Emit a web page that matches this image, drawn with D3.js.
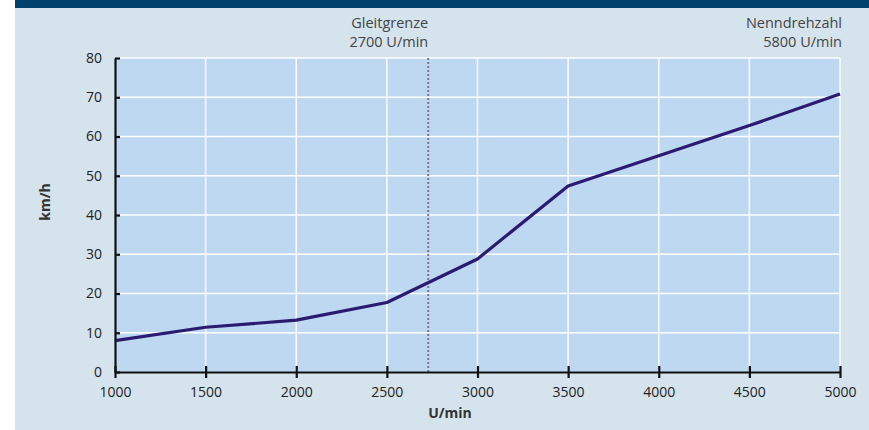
<!DOCTYPE html>
<meta charset="utf-8">
<head>
    <style type="text/css">
        body { margin: 0; background: #fff; }
        text { font-family: "Open Sans", "Noto Sans", sans-serif; }
        .line { fill: none; stroke: #2b1b70; stroke-width: 3.2; stroke-linejoin: round; }
        .grid line { stroke: #fff; stroke-width: 1.4; }
        .axis path, .axis line { stroke: #111; stroke-width: 2.2; }
        .axis text { font-size: 14px; fill: #222; }
        .note { font-size: 14.5px; fill: #444; }
        .label { font-size: 14px; font-weight: bold; fill: #333; }
    </style>
</head>
<body>
    <script src="https://d3js.org/d3.v7.min.js"></script>
    <script>
        // rpm values and the speed
        var rpm = [1000, 1500, 2000, 2500, 3000, 3500, 4000, 4500, 5000];
        var speed = [8.0, 11.4, 13.2, 17.7, 28.8, 47.4, 55.1, 62.8, 70.8];

        var xTicks = [1000, 1500, 2000, 2500, 3000, 3500, 4000, 4500, 5000];
        var yTicks = [0, 10, 20, 30, 40, 50, 60, 70, 80];

        // the dotted marker sits a bit right of 2700 in the original
        var markerRpm = 2728;
        var markerLines = ["Gleitgrenze", "2700 U/min"];
        var ratedLines = ["Nenndrehzahl", "5800 U/min"];

        var W = 869, H = 430;
        var margin = { top: 58, right: 29, bottom: 58, left: 115 },
            width = W - margin.left - margin.right,
            height = H - margin.top - margin.bottom;

        var svg = d3.select("body").append("svg")
            .attr("width", W)
            .attr("height", H);

        // panel background + top band
        svg.append("rect").attr("x", 15).attr("y", 0).attr("width", W - 15).attr("height", H).attr("fill", "#d5e3ec");
        svg.append("rect").attr("x", 15).attr("y", 0).attr("width", W - 15).attr("height", 8).attr("fill", "#00426e");

        var g = svg.append("g")
            .attr("transform", "translate(" + margin.left + "," + margin.top + ")");

        var xScale = d3.scaleLinear().domain([1000, 5000]).range([0, width]);
        var yScale = d3.scaleLinear().domain([0, 80]).range([height, 0]);

        g.append("rect")
            .attr("width", width)
            .attr("height", height)
            .attr("fill", "#bed8f2");

        // grid
        var grid = g.append("g").attr("class", "grid");
        grid.selectAll(".gx").data(xTicks.slice(1)).enter().append("line")
            .attr("x1", function (d) { return xScale(d); })
            .attr("x2", function (d) { return xScale(d); })
            .attr("y1", 0).attr("y2", height);
        grid.selectAll(".gy").data(yTicks.slice(1)).enter().append("line")
            .attr("x1", 0).attr("x2", width)
            .attr("y1", function (d) { return yScale(d); })
            .attr("y2", function (d) { return yScale(d); });

        // dotted marker
        g.append("line")
            .attr("x1", xScale(markerRpm)).attr("x2", xScale(markerRpm))
            .attr("y1", 0).attr("y2", height)
            .attr("stroke", "#7a7a82")
            .attr("stroke-width", 2)
            .attr("stroke-dasharray", "2,2");

        g.append("text")
            .attr("class", "note")
            .attr("text-anchor", "end")
            .attr("x", xScale(markerRpm))
            .selectAll("tspan").data(markerLines).enter().append("tspan")
            .attr("x", xScale(markerRpm))
            .attr("y", function (d, i) { return -30 + i * 19; })
            .text(function (d) { return d; });

        g.append("text")
            .attr("class", "note")
            .attr("text-anchor", "end")
            .selectAll("tspan").data(ratedLines).enter().append("tspan")
            .attr("x", width + 2)
            .attr("y", function (d, i) { return -30 + i * 19; })
            .text(function (d) { return d; });

        // line
        var line = d3.line()
            .x(function (d, i) { return xScale(rpm[i]); })
            .y(function (d) { return yScale(d); });

        g.append("path")
            .datum(speed)
            .attr("class", "line")
            .attr("d", line);

        // axes
        var xAxis = g.append("g")
            .attr("class", "x axis")
            .attr("transform", "translate(0," + height + ")")
            .call(d3.axisBottom(xScale).tickValues(xTicks).tickFormat(d3.format("d")).tickSizeInner(6).tickSizeOuter(0));
        xAxis.selectAll(".tick line").attr("y1", -6);
        xAxis.selectAll(".tick text").attr("y", 11).attr("dy", "1.0em");

        var yAxis = g.append("g")
            .attr("class", "y axis")
            .call(d3.axisLeft(yScale).tickValues(yTicks).tickSizeInner(7).tickSizeOuter(0));
        yAxis.selectAll(".tick line").attr("x2", 5);
        yAxis.selectAll(".tick text").attr("x", -13);

        g.selectAll(".axis .domain").attr("stroke-width", 2.6);

        // axis titles
        svg.append("text")
            .attr("class", "label")
            .attr("text-anchor", "middle")
            .attr("x", 450)
            .attr("y", 418)
            .text("U/min");

        svg.append("text")
            .attr("class", "label")
            .attr("text-anchor", "middle")
            .attr("transform", "translate(50,202) rotate(-90)")
            .text("km/h");
    </script>
</body>
